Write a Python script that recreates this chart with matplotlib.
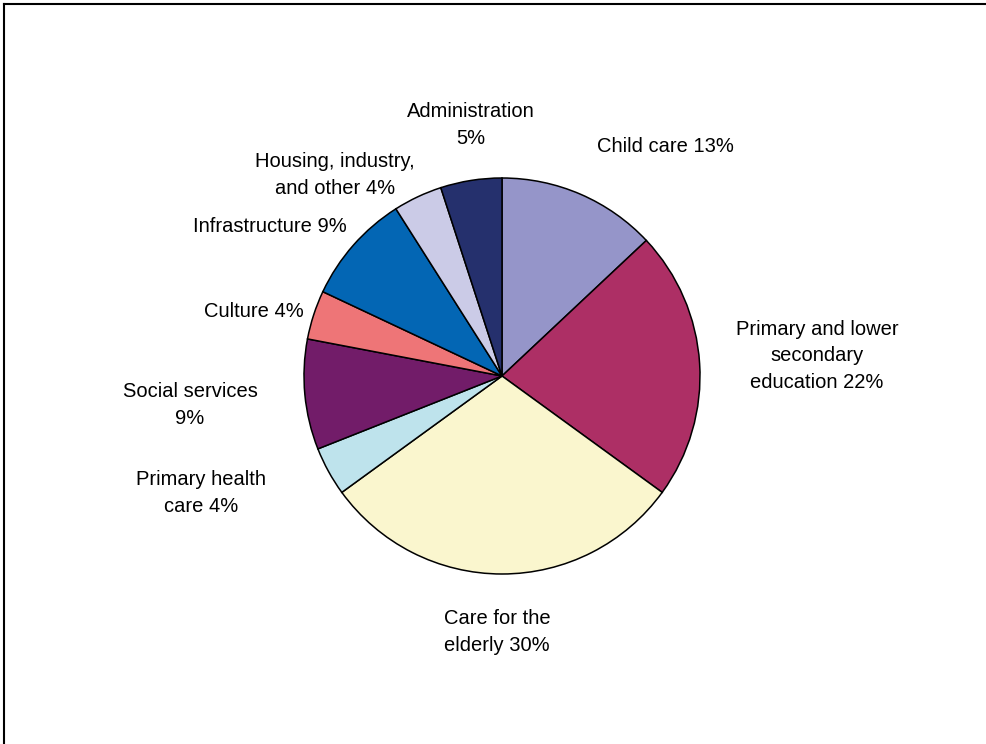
import matplotlib.pyplot as plt
from matplotlib.lines import Line2D

plt.rcParams['font.family'] = ['Liberation Sans', 'DejaVu Sans']

categories = ['Child care', 'Primary and lower\nsecondary\neducation', 'Care for the\nelderly',
              'Primary health\ncare', 'Social services\n', 'Culture', 'Infrastructure',
              'Housing, industry,\nand other', 'Administration\n']
shares = [13, 22, 30, 4, 9, 4, 9, 4, 5]
colors = ['#9595C9', '#AD2F65', '#FAF6CE', '#BEE3EC', '#721C69',
          '#EE7577', '#0366B4', '#CBCBE7', '#25306D']

# label centres in pixels (x, y from top)
label_pos = [(665, 146), (817, 356), (497, 632), (201, 493), (190, 405),
             (254, 312), (270, 227), (335, 175), (471, 125)]

W, H = 987, 744
fig = plt.figure(figsize=(W / 100, H / 100), dpi=100)
ax = fig.add_axes([0, 0, 1, 1])

ax.pie(shares, colors=colors, startangle=90, counterclock=False,
       center=(502, H - 376), radius=198,
       wedgeprops=dict(edgecolor='black', linewidth=1.1))

# pie() resets the limits, so set them afterwards
ax.set_xlim(0, W)
ax.set_ylim(0, H)
ax.set_aspect('equal')
ax.axis('off')

for name, val, (x, y) in zip(categories, shares, label_pos):
    sep = '' if name.endswith('\n') else ' '
    ax.text(x, H - y, f"{name}{sep}{val}%", ha='center', va='center',
            fontsize=14.5, linespacing=1.5)

# frame (clipped at right and bottom)
ax.add_line(Line2D([4, 4], [0, H - 4], color='black', lw=1.5))
ax.add_line(Line2D([4, W], [H - 4, H - 4], color='black', lw=1.5))

fig.savefig('out.png', dpi=100)
